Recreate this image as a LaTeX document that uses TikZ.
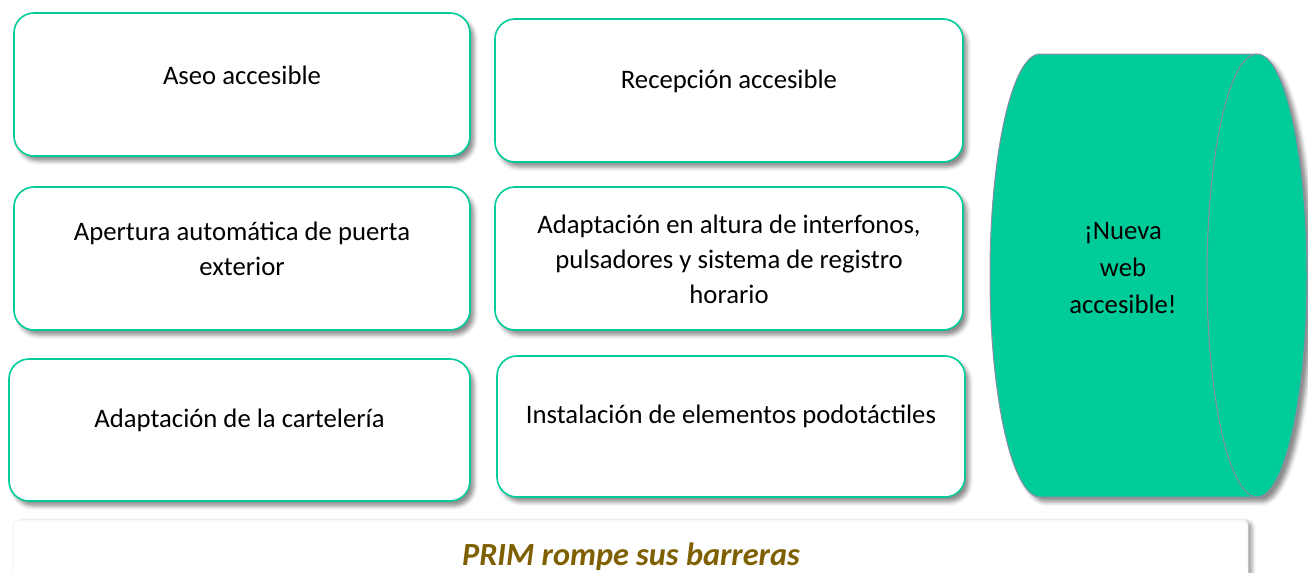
\documentclass[tikz,border=0pt]{standalone}
\usepackage{fontspec}
\setmainfont{Carlito}
\usetikzlibrary{shadows.blur}

\definecolor{verdeprim}{RGB}{0,204,153}
\definecolor{bordecil}{RGB}{140,140,165}
\definecolor{ocreprim}{RGB}{127,96,0}

\tikzset{
  caja/.style={
    draw=verdeprim,
    line width=0.8pt,
    fill=white,
    rounded corners=10pt,
    blur shadow={shadow xshift=2pt, shadow yshift=-2.5pt, shadow blur radius=2pt, shadow opacity=45}
  },
  rotulo/.style={align=center, font=\fontsize{13.35}{17.5}\selectfont, text=black},
  banda/.style={
    draw=black!6,
    fill=white,
    rounded corners=3pt,
    blur shadow={shadow xshift=2pt, shadow yshift=-1pt, shadow blur radius=2pt, shadow opacity=40}
  }
}

\begin{document}
\begin{tikzpicture}[x=0.5pt,y=-0.5pt]
\useasboundingbox (0,0) rectangle (1308,573);

% cajas de mejoras
\node[caja, minimum width=228pt, minimum height=71.5pt] (aseo) at (242,84.5) {};
\node[caja, minimum width=234pt, minimum height=71.5pt] (recepcion) at (729,90.5) {};
\node[caja, minimum width=228pt, minimum height=71.5pt] (apertura) at (242,258.5) {};
\node[caja, minimum width=234pt, minimum height=71.5pt] (altura) at (729,258.5) {};
\node[caja, minimum width=230.5pt, minimum height=71pt] (carteleria) at (239.5,430) {};
\node[caja, minimum width=234pt, minimum height=70.5pt] (podotactil) at (731,426.5) {};

\node[rotulo] (aseo-t) at (242,75) {Aseo accesible};
\node[rotulo] (recepcion-t) at (729,81) {Recepción accesible};
\node[rotulo] (apertura-t) at (242,249) {Apertura automática de puerta\\exterior};
\node[rotulo] (altura-t) at (729,259) {Adaptación en altura de interfonos,\\pulsadores y sistema de registro\\horario};
\node[rotulo] (carteleria-t) at (239.5,420) {Adaptación de la cartelería};
\node[rotulo] (podotactil-t) at (731,416) {Instalación de elementos podotáctiles};

% cilindro de la web
\path[fill=verdeprim, draw=bordecil, line width=0.5pt,
  blur shadow={shadow xshift=2.5pt, shadow yshift=-2.5pt, shadow blur radius=2pt, shadow opacity=45}]
  (1040,54) -- (1257,54) arc[start angle=-90, end angle=90, x radius=50, y radius=221.5]
  -- (1040,497) arc[start angle=90, end angle=270, x radius=50, y radius=221.5] -- cycle;
\draw[bordecil, line width=0.5pt] (1257,497) arc[start angle=90, end angle=270, x radius=50, y radius=221.5];
\node[rotulo, font=\fontsize{13.35}{18.5}\selectfont] (web) at (1123,268) {¡Nueva\\web\\accesible!};

% banda inferior
\node[banda, minimum width=617.5pt, minimum height=40pt] (lema) at (630.5,560) {};
\node[font=\fontsize{16.15}{19}\selectfont\bfseries\itshape, text=ocreprim] (lema-t) at (631,557) {PRIM rompe sus barreras};
\end{tikzpicture}
\end{document}
